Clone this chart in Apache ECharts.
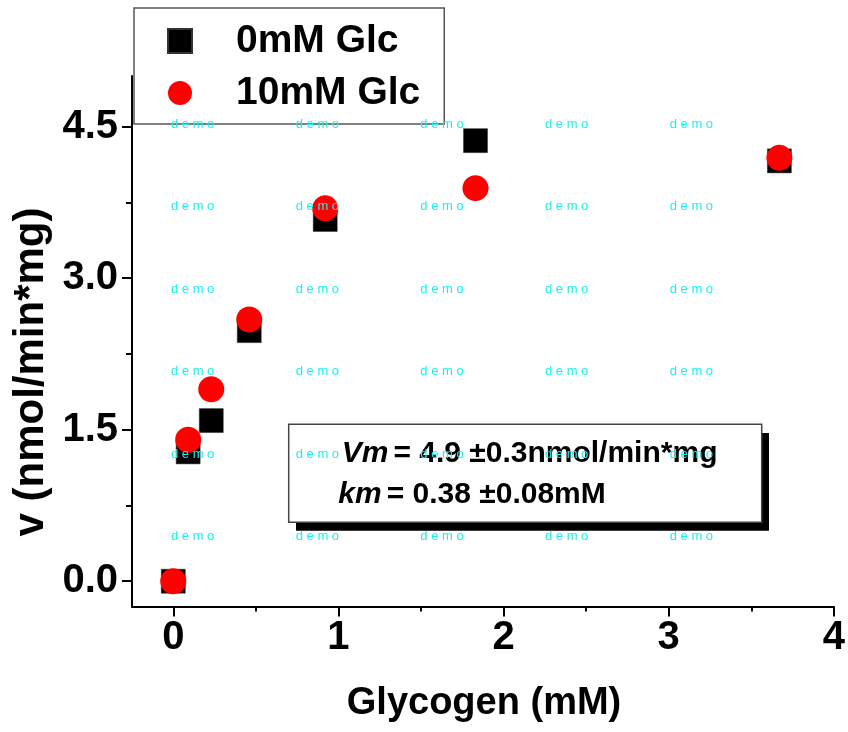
<!DOCTYPE html>
<html>
<head>
<meta charset="utf-8">
<script src="https://cdn.jsdelivr.net/npm/echarts@6/dist/echarts.min.js"></script>
<style>
  html, body { margin: 0; padding: 0; background: #fff; }
  #chart { width: 848px; height: 732px; }
</style>
</head>
<body>
<div id="chart"></div>
<script>
// Glycogen concentration (mM) and measured rates v (nmol/min*mg)
const glycogen = [0, 0.09, 0.23, 0.46, 0.92, 1.83, 3.67];
const rateNoGlc = [0, 1.28, 1.59, 2.48, 3.58, 4.36, 4.16];
const rate10Glc = [0, 1.40, 1.90, 2.59, 3.69, 3.89, 4.19];

const seriesNames = ['0mM Glc', '10mM Glc'];
const xMajorTicks = [0, 1, 2, 3, 4];
const xMinorTicks = [0.5, 1.5, 2.5, 3.5];
const yMajorTicks = [0, 1.5, 3.0, 4.5];
const yMinorTicks = [0.75, 2.25, 3.75];

const xTitle = 'Glycogen (mM)';
const yTitle = 'v (nmol/min*mg)';
const fitLines = [
  { sym: 'Vm', rest: '= 4.9 \u00b10.3nmol/min*mg' },
  { sym: 'km', rest: '= 0.38 \u00b10.08mM' }
];
const stampText = 'd e m o';

const FONT = '"Liberation Sans", Arial, Helvetica, sans-serif';

const chart = echarts.init(document.getElementById('chart'), null, { renderer: 'canvas' });

const pairs = ys => glycogen.map((x, i) => [x, ys[i]]);

const gridBox = { left: 132, top: 76, width: 703, height: 530.5 };

function axisBase(extra) {
  return Object.assign({
    axisLine: { show: true, onZero: false, lineStyle: { color: '#000', width: 2 } },
    splitLine: { show: false }
  }, extra);
}

// repeated faint stamp text over the plot
const stampCols = [171, 295.7, 420.3, 545, 669.7];
const stampRows = [124.3, 206.5, 289, 371.5, 454, 536.7];
const stamps = [];
stampRows.forEach(y => stampCols.forEach(x => {
  stamps.push({
    type: 'text', x: x, y: y, z: 100, silent: true,
    style: { text: stampText, fill: '#19f0f0', font: '13px ' + FONT, align: 'left', verticalAlign: 'middle' }
  });
}));

const fitRich = {
  i: { font: 'italic bold 30px ' + FONT, fill: '#000', padding: [0, 5, 0, 0] },
  n: { font: 'bold 30px ' + FONT, fill: '#000' }
};

const option = {
  backgroundColor: '#fff',
  animation: false,
  grid: gridBox,
  xAxis: [
    axisBase({
      type: 'value', min: -0.25, max: 4,
      axisTick: { show: true, inside: false, length: 10, lineStyle: { width: 2, color: '#000' }, customValues: xMajorTicks },
      axisLabel: {
        show: true, margin: 11, customValues: xMajorTicks,
        formatter: v => String(Math.round(v)),
        color: '#000', fontFamily: FONT, fontWeight: 'bold', fontSize: 40
      }
    }),
    axisBase({
      type: 'value', min: -0.25, max: 4, position: 'bottom',
      axisLine: { show: false, onZero: false },
      axisTick: { show: true, inside: false, length: 5, lineStyle: { width: 2, color: '#000' }, customValues: xMinorTicks },
      axisLabel: { show: false }
    })
  ],
  yAxis: [
    axisBase({
      type: 'value', min: -0.25, max: 5,
      axisTick: { show: true, inside: false, length: 10, lineStyle: { width: 2, color: '#000' }, customValues: yMajorTicks },
      axisLabel: {
        show: true, margin: 14, customValues: yMajorTicks,
        formatter: v => v.toFixed(1),
        color: '#000', fontFamily: FONT, fontWeight: 'bold', fontSize: 40
      }
    }),
    axisBase({
      type: 'value', min: -0.25, max: 5, position: 'left',
      axisLine: { show: false, onZero: false },
      axisTick: { show: true, inside: false, length: 6, lineStyle: { width: 2, color: '#000' }, customValues: yMinorTicks },
      axisLabel: { show: false }
    })
  ],
  legend: {
    orient: 'vertical', left: 134, top: 8,
    padding: [11, 24, 9, 33],
    itemGap: 8, itemWidth: 24, itemHeight: 24,
    backgroundColor: '#fff', borderColor: '#555', borderWidth: 1.5,
    textStyle: {
      color: '#000', fontFamily: FONT, fontWeight: 'bold', fontSize: 39,
      lineHeight: 44, padding: [0, 0, 0, 39]
    },
    data: [
      { name: seriesNames[0], icon: 'rect' },
      { name: seriesNames[1], icon: 'circle' }
    ]
  },
  series: [
    {
      name: seriesNames[0], type: 'scatter', symbol: 'rect', symbolSize: 24,
      itemStyle: { color: '#000', opacity: 1, borderColor: '#333', borderWidth: 0.5 },
      data: pairs(rateNoGlc), z: 2
    },
    {
      name: seriesNames[1], type: 'scatter', symbol: 'circle', symbolSize: 26,
      itemStyle: { color: '#ff0000', opacity: 1 },
      data: pairs(rate10Glc), z: 3
    }
  ],
  graphic: [
    // fit-parameter box with drop shadow
    { type: 'rect', z: 10, shape: { x: 296, y: 433, width: 473, height: 97.7 }, style: { fill: '#000' } },
    { type: 'rect', z: 11, shape: { x: 288.7, y: 424.3, width: 473, height: 98 }, style: { fill: '#fff', stroke: '#444', lineWidth: 1.5 } },
    {
      type: 'text', z: 12, x: 341.7, y: 454,
      style: {
        text: '{i|' + fitLines[0].sym + '}{n|' + fitLines[0].rest + '}',
        verticalAlign: 'middle', align: 'left', rich: fitRich
      }
    },
    {
      type: 'text', z: 12, x: 338.3, y: 495,
      style: {
        text: '{i|' + fitLines[1].sym + '}{n|' + fitLines[1].rest + '}',
        verticalAlign: 'middle', align: 'left', rich: fitRich
      }
    },
    // axis titles
    {
      type: 'text', z: 5, x: 484, y: 704,
      style: { text: xTitle, font: 'bold 38px ' + FONT, fill: '#000', align: 'center', verticalAlign: 'middle' }
    },
    {
      type: 'text', z: 5, x: 31, y: 372, rotation: Math.PI / 2,
      style: { text: yTitle, font: 'bold 42px ' + FONT, fill: '#000', align: 'center', verticalAlign: 'middle' }
    }
  ].concat(stamps)
};

chart.setOption(option);
</script>
</body>
</html>
